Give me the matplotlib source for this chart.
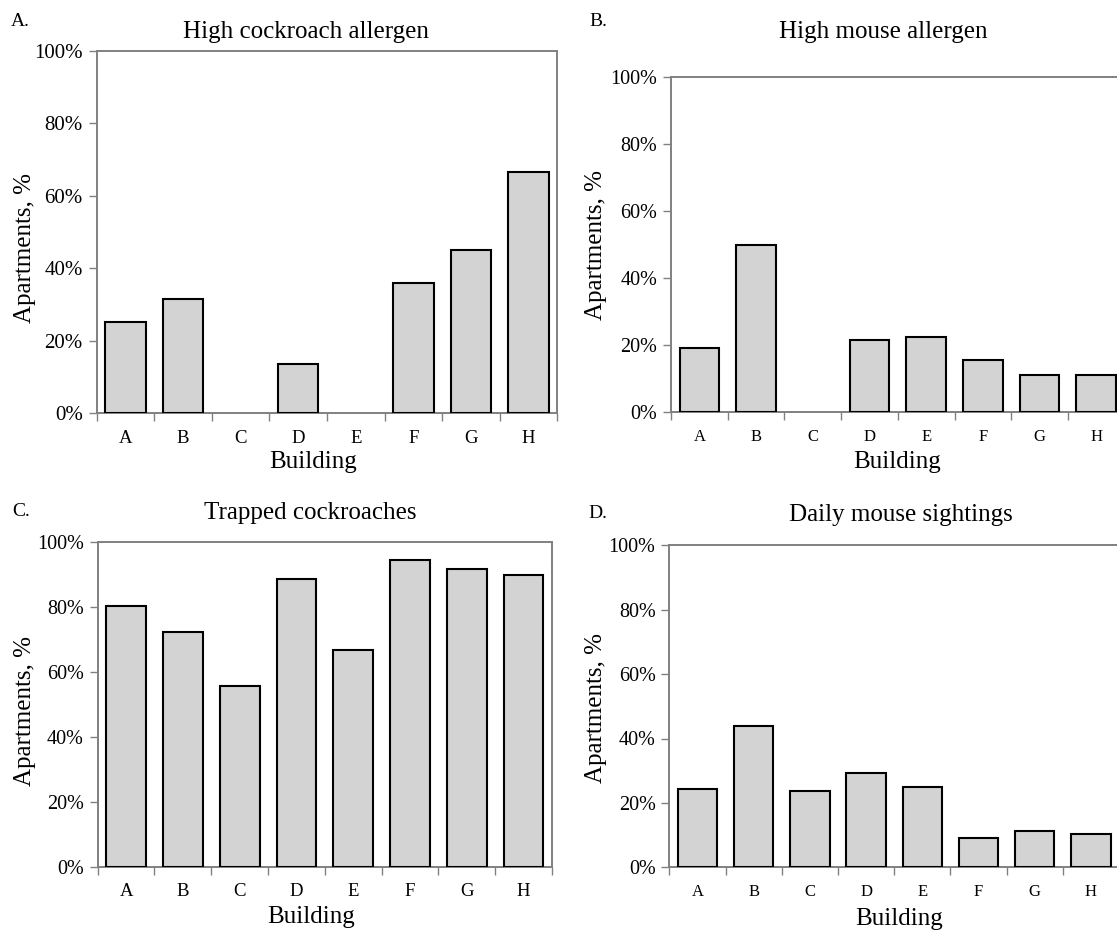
import matplotlib
matplotlib.use("Agg")
import matplotlib.pyplot as plt
import numpy as np
from matplotlib.ticker import FixedLocator, NullFormatter

plt.rcParams['font.family'] = ['Liberation Serif', 'DejaVu Serif']

buildings = ['A', 'B', 'C', 'D', 'E', 'F', 'G', 'H']

# percent of apartments
cockroach_allergen = [25.1, 31.6, 0, 13.5, 0, 36.1, 45.1, 66.5]
mouse_allergen = [19.1, 50.0, 0, 21.4, 22.4, 15.6, 11.0, 11.0]
trapped_cockroaches = [80.3, 72.3, 55.7, 88.6, 66.8, 94.5, 91.6, 89.9]
mouse_sightings = [24.3, 43.8, 23.7, 29.2, 24.8, 9.0, 11.3, 10.2]

W, H = 1117, 931
fig = plt.figure(figsize=(W / 100, H / 100), dpi=100)
fig.patch.set_facecolor('white')


def px_axes(left, right, top, bottom):
    return fig.add_axes([left / W, 1 - bottom / H, (right - left) / W, (bottom - top) / H])


def px_text(x, y, s, **kw):
    fig.text(x / W, 1 - y / H, s, **kw)


panels = [
    # values, letter, title, axes box (l, r, t, b), letter pos, title pos, ylabel pos, xlabel pos, tick sizes
    (cockroach_allergen, 'A.', 'High cockroach allergen', (96.7, 557.3, 51, 413.3),
     (11, 22), (306, 32), (25, 248), (313, 462), 15, 13.5),
    (mouse_allergen, 'B.', 'High mouse allergen', (671, 1124.6, 76.7, 412.3),
     (589, 21), (883, 32), (596, 245), (897, 462), 14.5, 12),
    (trapped_cockroaches, 'C.', 'Trapped cockroaches', (97.7, 552, 541.7, 866.7),
     (12, 512), (310, 513), (25, 711), (311, 917), 14.5, 13.5),
    (mouse_sightings, 'D.', 'Daily mouse sightings', (669.4, 1119, 545.3, 867.3),
     (588, 513), (901, 515), (596, 708), (899, 919), 14.5, 12),
]

x = np.arange(len(buildings))

for vals, letter, title, box, lpos, tpos, ypos, xpos, yfs, xfs in panels:
    ax = px_axes(*box)
    # empty bars (0%) are not outlined in the original
    lws = [1.5 if v > 0 else 0 for v in vals]
    ax.bar(x, vals, width=0.7, color='#d3d3d3', edgecolor='black', linewidth=lws, zorder=3)
    ax.set_xlim(-0.5, len(buildings) - 0.5)
    ax.set_ylim(0, 100)

    ax.set_yticks(np.arange(0, 101, 20))
    ax.set_yticklabels([f'{v}%' for v in range(0, 101, 20)], fontsize=yfs)
    ax.set_xticks(x)
    ax.set_xticklabels(buildings, fontsize=xfs)
    ax.xaxis.set_minor_locator(FixedLocator(np.arange(-0.5, len(buildings), 1.0)))
    ax.xaxis.set_minor_formatter(NullFormatter())
    ax.tick_params(axis='x', which='major', length=0, pad=12)
    ax.tick_params(axis='x', which='minor', length=6, width=1, color='#808080')
    ax.tick_params(axis='y', length=6, width=1, color='#808080', pad=4)

    for sp in ax.spines.values():
        sp.set_color('#808080')
        sp.set_linewidth(1.4)

    px_text(lpos[0], lpos[1], letter, fontsize=14, ha='left', va='center')
    px_text(tpos[0], tpos[1], title, fontsize=18, ha='center', va='center')
    px_text(ypos[0], ypos[1], 'Apartments, %', fontsize=18, rotation=90, ha='center', va='center')
    px_text(xpos[0], xpos[1], 'Building', fontsize=18, ha='center', va='center')

fig.savefig('out.png', dpi=100)
